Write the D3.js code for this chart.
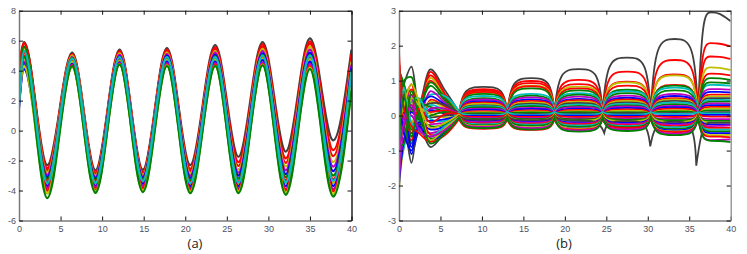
<!doctype html>
<html>
  <head>
    <meta charset="utf-8">
    <title>Trajetorias (a) e (b)</title>
    <script src="https://cdnjs.cloudflare.com/ajax/libs/d3/7.8.5/d3.min.js"></script>
    <style>
      body { margin: 0; background: #fff; }
      .tick text { font-family: "Liberation Sans", Arial, sans-serif; font-size: 9px; fill: #4f5060; }
      .lbl { font-family: "Open Sans", "DejaVu Sans", sans-serif; font-size: 13px; fill: #222; }
    </style>
  </head>
  <body>
    <div id="chart"></div>
    <script>
      // cores padrao do matlab
      const mc = { b: '#0000ff', g: '#008000', r: '#ff0000', c: '#00bfbf', m: '#bf00bf', y: '#bfbf00', k: '#404040' };

      // ---------- painel (a) ----------
      // picos e vales, lidos no olho
      const aX = [0, 0.6, 3.4, 6.4, 9.2, 12.1, 14.9, 17.8, 20.6, 23.6, 26.4, 29.3, 32.1, 35.0, 37.8, 40];
      const aColors = ['k', 'r', 'r', 'y', 'm', 'b', 'g', 'r', 'y', 'b', 'm', 'r', 'y', 'g', 'c'];
      const aValues = [
        [2.8, 5.9, -2.3, 5.2, -2.65, 5.4, -2.6, 5.5, -2.3, 5.7, -1.75, 5.9, -1.4, 6.15, -0.65, 5.4],
        [3.5, 5.85, -2.5, 5.1, -2.8, 5.3, -2.75, 5.4, -2.55, 5.55, -2.1, 5.75, -1.85, 5.95, -1.3, 5.1],
        [4.2, 5.8, -2.65, 5.05, -2.9, 5.25, -2.85, 5.3, -2.7, 5.45, -2.35, 5.6, -2.15, 5.8, -1.7, 4.9],
        [1.6, 5.5, -2.8, 5.0, -3.0, 5.15, -2.95, 5.2, -2.85, 5.3, -2.6, 5.45, -2.4, 5.6, -2.1, 4.6],
        [2.0, 5.3, -2.95, 4.9, -3.1, 5.05, -3.05, 5.1, -3.0, 5.2, -2.8, 5.3, -2.65, 5.4, -2.4, 4.4],
        [1.8, 4.1, -3.1, 4.25, -3.2, 4.95, -3.15, 5.0, -3.15, 5.05, -3.0, 5.15, -2.9, 5.2, -2.7, 4.2],
        [3.0, 5.6, -3.25, 4.85, -3.3, 4.85, -3.25, 4.9, -3.3, 4.95, -3.2, 5.05, -3.1, 5.05, -3.0, 4.0],
        [2.5, 5.0, -3.4, 4.7, -3.45, 4.75, -3.35, 4.8, -3.45, 4.85, -3.4, 4.95, -3.3, 4.9, -3.25, 3.8],
        [2.2, 4.8, -3.55, 4.6, -3.55, 4.65, -3.45, 4.7, -3.6, 4.75, -3.55, 4.8, -3.5, 4.75, -3.5, 3.6],
        [1.5, 4.5, -3.7, 4.45, -3.7, 4.55, -3.55, 4.6, -3.7, 4.6, -3.7, 4.7, -3.7, 4.6, -3.7, 3.4],
        [2.4, 4.6, -3.85, 4.4, -3.8, 4.5, -3.7, 4.5, -3.85, 4.5, -3.85, 4.55, -3.9, 4.45, -3.9, 3.2],
        [3.2, 5.2, -4.0, 4.35, -3.95, 4.45, -3.85, 4.4, -3.95, 4.4, -3.95, 4.45, -4.0, 4.3, -4.05, 3.0],
        [1.9, 4.3, -4.2, 4.25, -4.05, 4.42, -4.0, 4.35, -4.05, 4.32, -4.05, 4.4, -4.15, 4.2, -4.25, 2.9],
        [2.6, 4.9, -4.5, 4.3, -4.15, 4.4, -4.1, 4.3, -4.17, 4.3, -4.17, 4.35, -4.28, 4.1, -4.4, 2.7],
        [1.7, 5.3, -3.5, 4.8, -3.5, 4.9, -3.35, 4.9, -3.5, 4.9, -3.45, 5.0, -3.45, 5.0, -3.35, 4.0]
      ];
      const aTicksX = [0, 5, 10, 15, 20, 25, 30, 35, 40];
      const aTicksY = [-6, -4, -2, 0, 2, 4, 6, 8];

      // ---------- painel (b) ----------
      const bEarlyX = [0, 0.6, 1.5, 2.4, 3.8, 5.6];
      const bPinchX = [7.25, 13.05, 18.75, 24.55, 30.35, 36.05];
      const bPlateauX = [[7.8, 12.6], [13.6, 18.3], [19.3, 24.1], [25.1, 29.9], [30.9, 35.6], [36.6, 38.6]];
      const bColors = ['k', 'r', 'r', 'y', 'r', 'g', 'c', 'g', 'm', 'b', 'r', 'y', 'k', 'c', 'g', 'm', 'b', 'r', 'y',
                       'g', 'k', 'c', 'b', 'r', 'm', 'g', 'y', 'b', 'k', 'm', 'r', 'c', 'g', 'b', 'y', 'r', 'm', 'g'];
      const bEarly = [
        [0.4, 0.9, 1.4, 0.3, 1.32, 0.7], [1.85, 0.5, 0.9, -0.2, 1.25, 0.6], [1.2, -0.4, 0.6, 0.1, 1.15, 0.55],
        [0.7, 0.8, 0.3, 0.25, 1.08, 0.5], [-0.6, 0.3, 0.75, 0.4, 1.0, 0.45], [-1.4, 1.0, 1.1, 0.2, 0.95, 0.5],
        [-1.7, -0.6, 0.2, 0.35, 0.6, 0.55], [0.9, 0.2, -0.5, 0.1, 0.85, 0.4], [-0.2, 0.6, 0.5, -0.1, 0.7, 0.35],
        [0.3, -0.8, -0.3, 0.2, 0.55, 0.3], [1.5, 0.4, -0.2, -0.3, 0.45, 0.25], [-0.9, -0.3, 0.4, 0.0, 0.4, 0.2],
        [0.1, 0.3, -0.6, 0.15, 0.35, 0.3], [0.5, -0.2, 0.0, -0.15, 0.3, 0.15], [-0.4, 0.7, -0.8, 0.3, 0.25, 0.1],
        [0.8, -0.5, 0.2, -0.05, 0.2, 0.2], [-1.1, 0.1, -1.1, -0.4, 0.15, 0.05], [0.2, -0.1, 0.3, 0.1, 0.1, 0.15],
        [-2.1, -0.9, -0.3, 0.2, 0.05, -0.05], [0.6, 0.4, -0.4, -0.2, 0.0, 0.1], [-0.3, 0.2, 0.1, 0.05, -0.05, 0.0],
        [-1.5, -0.9, 0.4, 0.5, -0.1, -0.15], [-2.0, -0.7, 0.1, -0.1, -0.15, -0.1], [1.0, -0.3, -0.7, 0.2, -0.2, 0.05],
        [-1.8, -0.4, 0.6, -0.3, -0.25, -0.2], [1.3, 0.9, 0.2, -0.1, -0.3, -0.25], [0.0, -0.6, 0.5, 0.3, -0.35, -0.2],
        [-0.7, 0.5, -0.9, -0.2, -0.4, -0.3], [-0.5, -0.3, -1.35, -0.25, -0.9, -0.45], [-1.6, 0.0, 0.0, -0.35, -0.5, -0.35],
        [0.4, -0.1, -0.5, 0.1, -0.55, -0.4], [-1.2, 0.8, -0.2, -0.45, -0.6, -0.3], [-0.9, -0.8, 0.7, 0.0, -0.65, -0.45],
        [0.7, -0.5, -1.0, -0.3, -0.7, -0.5], [-0.2, 0.3, 0.9, 0.4, -0.7, -0.35], [1.6, 0.2, -0.3, -0.5, -0.75, -0.55],
        [-1.3, -0.2, 0.3, -0.4, -0.6, -0.4], [-0.8, 0.6, -0.6, 0.1, -0.8, -0.5]
      ];
      const bPinch = [0.1, 0.08, 0.06, 0.1, 0.04, 0.02, 0.12, 0.0, 0.05, 0.03, 0.07, 0.02, 0.04, 0.06, 0.0, 0.05, 0.01, 0.03, 0.0,
                      0.04, 0.02, 0.1, 0.0, 0.05, -0.02, 0.02, 0.04, -0.03, 0.0, -0.05, 0.0, -0.05, -0.02, -0.08, -0.04, -0.1, -0.06, -0.05];
      const bLevels = [
        [0.82, 1.07, 1.33, 1.66, 2.19, 2.95], [0.76, 0.99, 1.02, 1.26, 1.59, 2.07], [0.72, 0.93, 0.9, 0.97, 1.18, 1.69],
        [0.66, 0.86, 0.83, 0.95, 1.15, 1.38], [0.68, 0.84, 0.78, 0.86, 0.88, 1.2], [0.62, 0.78, 0.72, 0.74, 0.86, 1.07],
        [0.56, 0.62, 0.64, 0.7, 0.8, 0.88], [0.5, 0.57, 0.6, 0.64, 0.72, 0.95], [0.46, 0.52, 0.54, 0.57, 0.62, 0.76],
        [0.41, 0.46, 0.48, 0.51, 0.56, 0.68], [0.38, 0.42, 0.44, 0.46, 0.5, 0.6], [0.34, 0.38, 0.4, 0.42, 0.46, 0.55],
        [0.3, 0.34, 0.36, 0.38, 0.42, 0.5], [0.27, 0.3, 0.32, 0.34, 0.38, 0.45], [0.24, 0.27, 0.28, 0.3, 0.33, 0.4],
        [0.2, 0.22, 0.24, 0.26, 0.28, 0.35], [0.17, 0.19, 0.2, 0.22, 0.24, 0.3], [0.13, 0.15, 0.16, 0.18, 0.2, 0.25],
        [0.1, 0.12, 0.13, 0.14, 0.15, 0.2], [0.07, 0.09, 0.1, 0.1, 0.12, 0.15], [0.04, 0.05, 0.06, 0.07, 0.08, 0.1],
        [0.01, 0.02, 0.03, 0.03, 0.05, 0.06], [-0.01, 0.0, 0.0, 0.0, 0.0, 0.02], [-0.04, -0.04, -0.04, -0.04, -0.04, -0.03],
        [-0.07, -0.07, -0.08, -0.08, -0.09, -0.1], [-0.1, -0.1, -0.11, -0.12, -0.13, -0.15], [-0.13, -0.13, -0.15, -0.16, -0.18, -0.2],
        [-0.16, -0.17, -0.19, -0.2, -0.22, -0.25], [-0.12, -0.13, -0.14, -0.15, -0.17, -0.2], [-0.19, -0.2, -0.22, -0.24, -0.26, -0.3],
        [-0.22, -0.23, -0.25, -0.27, -0.3, -0.35], [-0.25, -0.26, -0.28, -0.3, -0.33, -0.4], [-0.28, -0.29, -0.32, -0.33, -0.38, -0.45],
        [-0.33, -0.35, -0.37, -0.36, -0.42, -0.5], [-0.3, -0.34, -0.38, -0.4, -0.45, -0.56], [-0.38, -0.41, -0.4, -0.35, -0.47, -0.6],
        [-0.32, -0.36, -0.42, -0.4, -0.52, -0.7], [-0.36, -0.4, -0.46, -0.44, -0.56, -0.72]
      ];
      const bEnd = [2.7, 1.98, 1.62, 1.3, 1.15, 1.02, 0.85, 0.92, 0.74, 0.66, 0.6, 0.55, 0.5, 0.44, 0.4, 0.34, 0.3, 0.25, 0.2,
                    0.15, 0.1, 0.06, 0.02, -0.03, -0.1, -0.15, -0.2, -0.25, -0.2, -0.28, -0.35, -0.4, -0.45, -0.5, -0.55, -0.62, -0.68, -0.76];
      // a linha cinza que da os picos pra baixo
      const bDipSeries = 28;
      const bDipX = [24.75, 30.3, 35.85];
      const bDipY = [-0.5, -0.88, -1.43];
      const bTicksX = [0, 5, 10, 15, 20, 25, 30, 35, 40];
      const bTicksY = [-3, -2, -1, 0, 1, 2, 3];

      // ---------- svg ----------
      const svg = d3.select('#chart').append('svg')
        .attr('width', 747)
        .attr('height', 254);

      const fmt = d => String(d);   // hifen normal, nada de "3.0"

      function panel(id, left, right, yDomain, ticksX, ticksY, rightColor) {
        const top = 10.7, bottom = 220.5;
        const x = d3.scaleLinear().domain([0, 40]).range([left, right]);
        const y = d3.scaleLinear().domain(yDomain).range([bottom, top]);
        const g = svg.append('g');

        svg.append('clipPath').attr('id', id)
          .append('rect').attr('x', left).attr('y', top).attr('width', right - left).attr('height', bottom - top);
        const plot = g.append('g').attr('clip-path', `url(#${id})`);

        // eixos com ticks pra dentro (estilo box on)
        const ax = [
          [d3.axisBottom(x).tickValues(ticksX).tickFormat(fmt).tickSize(-4).tickSizeOuter(0).tickPadding(5), `translate(0,${bottom})`, '#7a7a7a', 1.3],
          [d3.axisTop(x).tickValues(ticksX).tickSize(-4).tickSizeOuter(0).tickFormat(''), `translate(0,${top})`, '#000', 1],
          [d3.axisLeft(y).tickValues(ticksY).tickFormat(fmt).tickSize(-4).tickSizeOuter(0).tickPadding(3), `translate(${left},0)`, '#7a7a7a', 1.5],
          [d3.axisRight(y).tickValues(ticksY).tickSize(-4).tickSizeOuter(0).tickFormat(''), `translate(${right},0)`, rightColor, 1.3]
        ];
        ax.forEach(([a, tr, col, w]) => {
          const ag = g.append('g').attr('transform', tr).call(a);
          ag.select('.domain').attr('stroke', col).attr('stroke-width', w);
          ag.selectAll('.tick line').attr('stroke', '#111');
        });
        return { x, y, plot };
      }

      // painel (a)
      const pa = panel('clipA', 19, 351.5, [-6, 8], aTicksX, aTicksY, '#000');
      const lineA = d3.line().x(d => pa.x(d[0])).y(d => pa.y(d[1])).curve(d3.curveMonotoneX);
      pa.plot.selectAll('path.sa')
        .data(aValues)
        .join('path')
        .attr('class', 'sa')
        .attr('d', vals => lineA(vals.map((v, i) => [aX[i], v])))
        .attr('fill', 'none')
        .attr('stroke', (d, i) => mc[aColors[i]])
        .attr('stroke-width', 2.3);

      // painel (b)
      const pb = panel('clipB', 399, 730.7, [-3, 3], bTicksX, bTicksY, '#8a8a8a');
      // parte inicial: catmull-rom; depois: basis com o ponto de estrangulamento triplicado (bico fino)
      const lineEarly = d3.line().x(d => pb.x(d[0])).y(d => pb.y(d[1])).curve(d3.curveCatmullRom.alpha(0.5));
      const lineLate = d3.line().x(d => pb.x(d[0])).y(d => pb.y(d[1])).curve(d3.curveBasis);

      function bPath(i) {
        const early = bEarlyX.map((x, k) => [x, bEarly[i][k]]);
        early.push([bPinchX[0], bPinch[i]]);
        const late = [];
        bPinchX.forEach((px, k) => {
          let pin = [px, bPinch[i]];
          if (i === bDipSeries && k >= 3) pin = [bDipX[k - 3], bDipY[k - 3]];
          late.push(pin, pin, pin);
          const [s, e] = bPlateauX[k];
          const L = bLevels[i][k];
          late.push([s, L], [(s + e) / 2, L], [e, L]);
        });
        late.push([40, bEnd[i]]);
        return lineEarly(early) + lineLate(late);
      }

      pb.plot.selectAll('path.sb')
        .data(bLevels)
        .join('path')
        .attr('class', 'sb')
        .attr('d', (d, i) => bPath(i))
        .attr('fill', 'none')
        .attr('stroke', (d, i) => mc[bColors[i]])
        .attr('stroke-width', 1.8);

      // legendas embaixo
      svg.append('text').attr('class', 'lbl').attr('x', 195).attr('y', 248).attr('text-anchor', 'middle').text('(a)');
      svg.append('text').attr('class', 'lbl').attr('x', 564).attr('y', 248).attr('text-anchor', 'middle').text('(b)');
    </script>
  </body>
</html>
